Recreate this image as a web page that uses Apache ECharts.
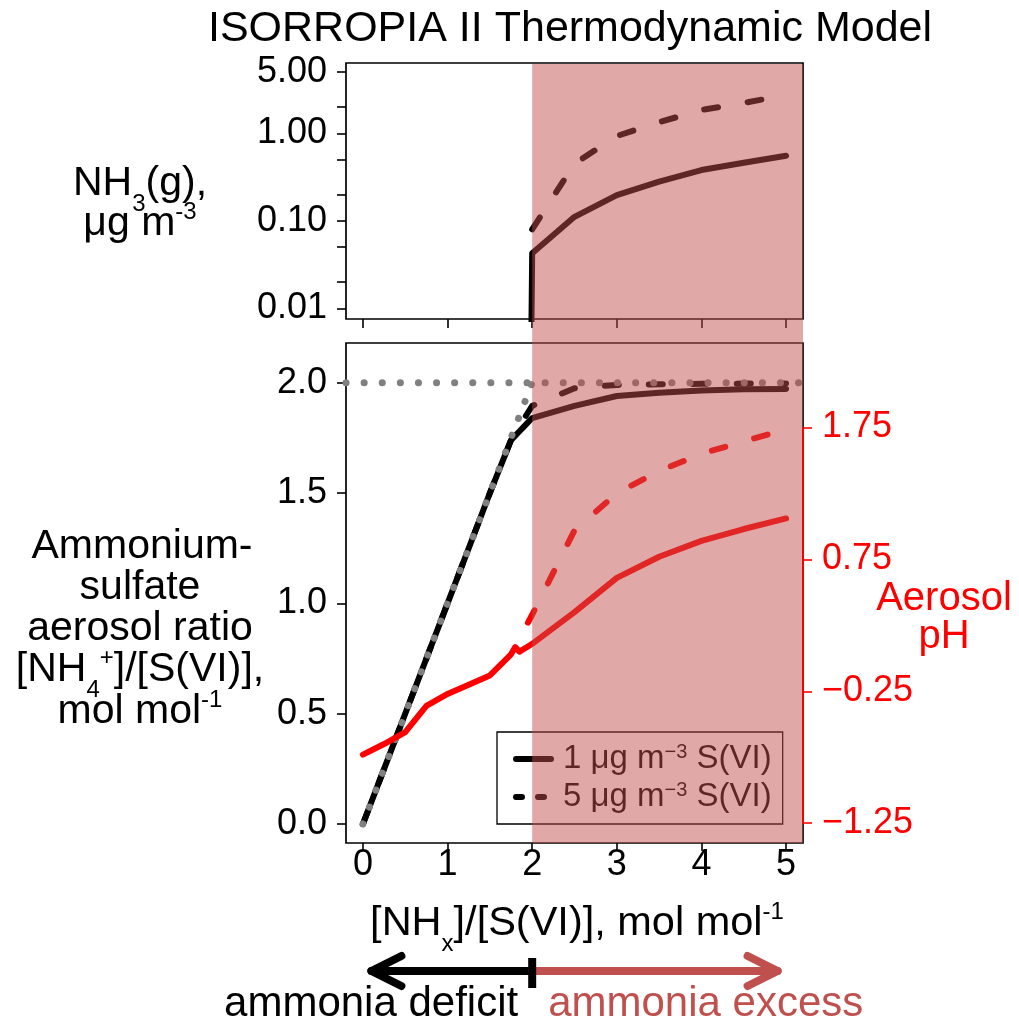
<!DOCTYPE html>
<html>
<head>
<meta charset="utf-8" />
<title>ISORROPIA II Thermodynamic Model</title>
<style>
  html, body { margin: 0; padding: 0; background: #fff; }
  #chart { width: 1019px; height: 1023px; }
</style>
<script src="https://cdn.jsdelivr.net/npm/echarts@6/dist/echarts.min.js"></script>
</head>
<body>
<div id="chart"></div>
<script>
// [NHx]/[S(VI)] ratio, mol mol-1 (shared x for every model run)
var ratioX = [0, 0.25, 0.5, 0.75, 1, 1.25, 1.5, 1.75, 1.8, 1.85, 1.9, 1.95, 2, 2.5, 3, 3.5, 4, 4.5, 5];

// NH3(g), ug m-3  (~0 below the ammonia deficit / excess split)
var nh3Low  = [1e-6, 1e-6, 1e-6, 1e-6, 1e-6, 1e-6, 1e-6, 1e-6, 1e-6, 1e-6, 1e-6, 1e-6, 0.0425, 0.111, 0.197, 0.28, 0.38, 0.46, 0.555];
var nh3High = [null, null, null, null, null, null, null, null, null, null, null, null, 0.08, 0.45, 0.93, 1.34, 1.85, 2.22, 2.74];

// [NH4+]/[S(VI)] aerosol ratio
var nh4Low  = [0, 0.25, 0.5, 0.75, 1, 1.25, 1.5, 1.74, 1.76, 1.78, 1.80, 1.82, 1.84, 1.895, 1.94, 1.955, 1.965, 1.97, 1.972];
var nh4High = [0, 0.25, 0.5, 0.75, 1, 1.25, 1.5, 1.74, 1.77, 1.80, 1.835, 1.865, 1.895, 1.975, 1.99, 1.993, 1.995, 1.996, 1.997];

// aerosol pH
var phLow  = [-0.73, -0.65, -0.56, -0.36, -0.27, -0.20, -0.13, 0.03, 0.085, 0.05, 0.07, 0.09, 0.11, 0.35, 0.61, 0.77, 0.89, 0.98, 1.06];
var phHigh = [null, null, null, null, null, null, null, null, null, null, null, 0.27, 0.33, 0.97, 1.25, 1.42, 1.55, 1.645, 1.735];

// full neutralisation reference: 1:1 line and the 2.0 ceiling
var idealX = [0, 2];
var idealY = [0, 2];
var ceilX = [-0.2, 5.2];
var ceilY = [2, 2];

// ammonia excess region
var excessX = [2, 5.2];
var excessY = [1, 1];

// axis ticks
var xTicks = [0, 1, 2, 3, 4, 5];
var nh3Ticks = [0.01, 0.02, 0.05, 0.1, 0.2, 0.5, 1, 2, 5];
var nh3Labels = [0.01, 0.1, 1, 5];
var nh4Ticks = [0, 0.5, 1, 1.5, 2];
var phTicks = [-1.25, -0.25, 0.75, 1.75];
var phAxisX = [5.2, 5.2];
var phAxisY = [-1.25, 1.75];

var seriesNames = ['1 μg m−3 S(VI)', '5 μg m−3 S(VI)'];
var arrowSplit = 2;
var arrowEnds = [0.1, 4.9];

var FONT = 'Liberation Sans, Arial, sans-serif';
var EXCESS = '#c0504d';
var DASH = [14, 30];
var DOT = [0.1, 18];

function pairs(xs, ys) {
    return xs.map(function (x, i) { return [x, ys[i]]; });
}

function lineSeries(name, xi, yi, data, color, type, width) {
    return {
        name: name, type: 'line', xAxisIndex: xi, yAxisIndex: yi,
        data: data, symbol: 'none', silent: true,
        itemStyle: { color: color },
        lineStyle: { color: color, width: width || 6, type: type || 'solid', cap: 'round', join: 'round' }
    };
}

var tickStyle = { color: '#000', width: 1.6 };
var labelFont = { fontFamily: FONT, fontSize: 36, color: '#000' };
var noLine = { show: false, onZero: false };

var chart = echarts.init(document.getElementById('chart'));

var option = {
    animation: false,
    grid: [
        { left: 346, top: 63, width: 457, height: 256, show: true, borderColor: '#000', borderWidth: 1.7, backgroundColor: 'transparent' },
        { left: 346, top: 343, width: 457, height: 500, show: true, borderColor: '#000', borderWidth: 1.7, backgroundColor: 'transparent' },
        { left: 346, top: 64, width: 457, height: 779 }
    ],
    xAxis: [
        {
            gridIndex: 0, type: 'value', min: -0.2, max: 5.2,
            axisLine: noLine, splitLine: { show: false },
            axisTick: { show: true, length: 9, lineStyle: tickStyle, customValues: xTicks },
            axisLabel: { show: false }
        },
        {
            gridIndex: 1, type: 'value', min: -0.2, max: 5.2,
            axisLine: noLine, splitLine: { show: false },
            axisTick: { show: true, length: 8, lineStyle: tickStyle, customValues: xTicks },
            axisLabel: Object.assign({ show: true, margin: 4, customValues: xTicks }, labelFont)
        },
        { gridIndex: 2, type: 'value', min: -0.2, max: 5.2, show: false, axisLine: noLine }
    ],
    yAxis: [
        {
            gridIndex: 0, type: 'log', logBase: 10, min: 0.00755, max: 6.36,
            axisLine: noLine, splitLine: { show: false }, minorTick: { show: false },
            axisTick: { show: true, length: 9, lineStyle: tickStyle, customValues: nh3Ticks },
            axisLabel: Object.assign({
                margin: 19, customValues: nh3Labels,
                formatter: function (v) { return v.toFixed(2); }
            }, labelFont)
        },
        {
            gridIndex: 1, type: 'value', min: -0.086, max: 2.18,
            axisLine: noLine, splitLine: { show: false },
            axisTick: { show: true, length: 9, lineStyle: tickStyle, customValues: nh4Ticks },
            axisLabel: Object.assign({
                margin: 19, customValues: nh4Ticks,
                formatter: function (v) { return v.toFixed(1); }
            }, labelFont)
        },
        {
            gridIndex: 1, type: 'value', position: 'right', min: -1.4, max: 2.39, z: 20,
            axisLine: noLine, splitLine: { show: false },
            axisTick: { show: true, length: 9, lineStyle: { color: '#ff0000', width: 1.6 }, customValues: phTicks },
            axisLabel: {
                margin: 19, customValues: phTicks, fontFamily: FONT, fontSize: 36, color: '#ff0000',
                formatter: function (v) { return v.toFixed(2).replace('-', '−'); }
            }
        },
        { gridIndex: 2, type: 'value', min: 0, max: 1, show: false, axisLine: noLine }
    ],
    legend: {
        orient: 'vertical', left: 497, top: 732,
        data: [
            { name: seriesNames[0], itemStyle: { opacity: 0 }, lineStyle: { color: '#000', width: 6, type: 'solid', cap: 'round' } },
            { name: seriesNames[1], itemStyle: { opacity: 0 }, lineStyle: { color: '#000', width: 6, type: [6, 16], cap: 'round' } }
        ],
        selectedMode: false,
        itemWidth: 35, itemHeight: 14, itemGap: 4,
        padding: [10, 11, 10, 16],
        borderColor: '#000', borderWidth: 1.3, backgroundColor: 'transparent',
        formatter: function (n) { return n.replace('m−3', 'm{sup|−3}'); },
        textStyle: {
            fontFamily: FONT, fontSize: 33, color: '#000', lineHeight: 34, padding: [0, 0, 0, 7],
            rich: { sup: { fontFamily: FONT, fontSize: 20, verticalAlign: 'top', color: '#000' } }
        }
    },
    series: [
        lineSeries(seriesNames[0], 0, 0, pairs(ratioX, nh3Low), '#000'),
        lineSeries(seriesNames[1], 0, 0, pairs(ratioX, nh3High), '#000', DASH),
        lineSeries(seriesNames[0], 1, 1, pairs(ratioX, nh4Low), '#000'),
        lineSeries(seriesNames[1], 1, 1, pairs(ratioX, nh4High), '#000', DASH),
        lineSeries('neutralised', 1, 1, pairs(idealX, idealY), '#808080', DOT, 7),
        lineSeries('ceiling', 1, 1, pairs(ceilX, ceilY), '#808080', DOT, 7),
        lineSeries(seriesNames[0], 1, 2, pairs(ratioX, phLow), '#ff0000'),
        lineSeries(seriesNames[1], 1, 2, pairs(ratioX, phHigh), '#ff0000', DASH),
        {
            name: 'ammonia excess', type: 'line', xAxisIndex: 2, yAxisIndex: 3,
            data: pairs(excessX, excessY), symbol: 'none', silent: true, z: 10,
            lineStyle: { width: 0, opacity: 0 },
            areaStyle: { color: 'rgba(192, 80, 77, 0.49)', opacity: 1 }
        },
        // red pH axis line, only across the labelled tick range
        {
            name: 'pH axis', type: 'line', xAxisIndex: 1, yAxisIndex: 2, z: 20, clip: false,
            data: pairs(phAxisX, phAxisY), symbol: 'none', silent: true,
            lineStyle: { color: '#ff0000', width: 1.8 }
        }
    ]
};

chart.setOption(option);

// text with sub/superscripts, centred on (x, y)
function richStyles(size) {
    return {
        sub: { fontFamily: FONT, fontSize: 24, verticalAlign: 'bottom' },
        sup: { fontFamily: FONT, fontSize: 24, verticalAlign: 'top', padding: [8, 0, 0, 0] }
    };
}
function label(x, y, text, size, color, align) {
    return {
        type: 'text', x: x, y: y, silent: true, z: 30,
        style: {
            text: text, fill: color || '#000', fontFamily: FONT, fontSize: size,
            lineHeight: 64, align: align || 'center', verticalAlign: 'middle', rich: richStyles(size)
        }
    };
}

var px = function (v) { return chart.convertToPixel({ xAxisIndex: 1 }, v); };
var xMid = px(arrowSplit), xL = px(arrowEnds[0]), xR = px(arrowEnds[1]);
var ay = 971, head = 30, half = 15;
function stroke(points, color) {
    return {
        type: 'polyline', silent: true, z: 30,
        shape: { points: points },
        style: { stroke: color, lineWidth: 8, lineCap: 'round', lineJoin: 'round', fill: null }
    };
}

chart.setOption({
    graphic: [
        label(570, 29, 'ISORROPIA II Thermodynamic Model', 43),
        label(140, 184, 'NH{sub|3}(g),', 41),
        label(140, 224, 'μg m{sup|-3}', 41),
        label(142, 547, 'Ammonium-', 41),
        label(140, 588, 'sulfate', 41),
        label(140, 629, 'aerosol ratio', 41),
        label(140, 670, '[NH{sub|4}{sup|+}]/[S(VI)],', 41),
        label(140, 712, 'mol mol{sup|-1}', 41),
        label(944, 599, 'Aerosol', 40, '#ff0000'),
        label(944, 637, 'pH', 40, '#ff0000'),
        label(577, 924, '[NH{sub|x}]/[S(VI)], mol mol{sup|-1}', 41.5),
        stroke([[xMid, ay], [xL, ay]], '#000'),
        stroke([[xL + head, ay - half], [xL, ay], [xL + head, ay + half]], '#000'),
        stroke([[xMid, ay], [xR, ay]], EXCESS),
        stroke([[xR - head, ay - half], [xR, ay], [xR - head, ay + half]], EXCESS),
        {
            type: 'line', silent: true, z: 31,
            shape: { x1: xMid, y1: ay - 13, x2: xMid, y2: ay + 17 },
            style: { stroke: '#000', lineWidth: 8 }
        },
        label(xMid - 14, 1004, 'ammonia deficit', 42, '#000', 'right'),
        label(xMid + 16, 1004, 'ammonia excess', 42, EXCESS, 'left')
    ]
});
</script>
</body>
</html>
